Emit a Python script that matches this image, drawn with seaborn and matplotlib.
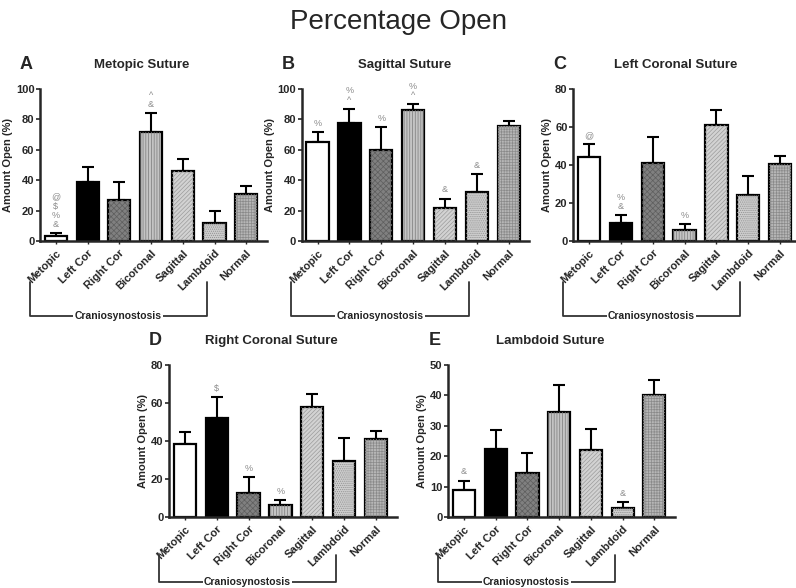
import pandas as pd
import seaborn as sns
import matplotlib.pyplot as plt
from matplotlib.patches import Rectangle
from matplotlib.transforms import blended_transform_factory

# ---------------- datos ----------------
categorias = ['Metopic', 'Left Cor', 'Right Cor', 'Bicoronal', 'Sagittal', 'Lambdoid', 'Normal']

metopic_media = [3.5, 39, 27, 72, 46, 12, 31]
metopic_err = [1.5, 10, 12, 12, 8, 7.5, 5]
metopic_marcas = ['@\n$\n%\n&', '', '', '^\n&', '', '', '']

sagittal_media = [65, 78, 60, 86, 22, 32, 76]
sagittal_err = [6.5, 9, 15, 4, 6, 12, 3]
sagittal_marcas = ['%', '%\n^', '%', '%\n^', '&', '&', '']

lcor_media = [44, 9.5, 41, 6, 61, 24, 40.5]
lcor_err = [7, 4, 14, 3, 8, 10, 4.5]
lcor_marcas = ['@', '%\n&', '', '%', '', '', '']

rcor_media = [38.5, 52, 12.5, 6.5, 58, 29.5, 41]
rcor_err = [6.5, 11, 8.5, 2.5, 7, 12, 4.5]
rcor_marcas = ['', '$', '%', '%', '', '', '']

lambdoid_media = [9, 22.5, 14.5, 34.5, 22, 3, 40]
lambdoid_err = [3, 6, 6.5, 9, 7, 2, 5]
lambdoid_marcas = ['&', '', '', '', '', '&', '']

# estilo de cada barra: (relleno, trama, color de trama)
rellenos = ['white', 'black', '#808080', '#c4c4c4', '#d2d2d2', '#cdcdcd', '#b6b6b6']
tramas = [None, None, 'xxxxxx', '||||||', '////////', '........', '++++++']
color_trama = [None, None, '#5e5e5e', '#7a7a7a', '#9c9c9c', '#8e8e8e', '#8a8a8a']

sns.set_style('ticks')
plt.rcParams['font.family'] = ['Liberation Sans', 'DejaVu Sans']
plt.rcParams['hatch.linewidth'] = 0.5


def panel(ax, letra, titulo, medias, errores, marcas, ymax, yticks, yb):
    df = pd.DataFrame({'grupo': categorias, 'valor': medias})
    sns.barplot(data=df, x='grupo', y='valor', ax=ax, color='white',
                edgecolor='black', linewidth=1.6, width=0.7, errorbar=None, zorder=2)
    for p, fc, h, hc in zip(ax.patches, rellenos, tramas, color_trama):
        p.set_facecolor(fc)
        if h:
            ax.add_patch(Rectangle(p.get_xy(), p.get_width(), p.get_height(), fill=False,
                                   hatch=h, edgecolor=hc, linewidth=0, zorder=2.5))
    ax.errorbar(range(len(categorias)), medias, yerr=[[0] * len(medias), errores],
                fmt='none', ecolor='black', elinewidth=1.5, capsize=4, capthick=1.5, zorder=1.5)
    for i, m in enumerate(marcas):
        if m:
            ax.annotate(m, (i, medias[i] + errores[i]), xytext=(0, 3), textcoords='offset points',
                        ha='center', va='bottom', fontsize=6.5, color='#8a8a8a',
                        linespacing=1.05)
    ax.set_xlim(-0.5, 6.65)
    ax.set_ylim(0, ymax)
    ax.set_yticks(yticks)
    ax.set_xlabel('')
    ax.set_ylabel('Amount Open (%)', fontsize=8, fontweight='bold', labelpad=2)
    ax.set_xticks(range(len(categorias)))
    ax.set_xticklabels(categorias, rotation=45, ha='right', rotation_mode='anchor',
                       fontsize=8, fontweight='bold')
    ax.tick_params(axis='y', labelsize=8, length=3, width=1.2, pad=1)
    ax.tick_params(axis='x', length=2, width=1, pad=3)
    for lab in ax.get_yticklabels():
        lab.set_fontweight('bold')
    sns.despine(ax=ax)
    for s in ['left', 'bottom']:
        ax.spines[s].set_linewidth(1.8)

    ax.text(-0.06, 1.16, letra, transform=ax.transAxes, fontsize=13, fontweight='bold',
            ha='center', va='center')
    ax.text(0.45, 1.16, titulo, transform=ax.transAxes, fontsize=9.5, fontweight='bold',
            ha='center', va='center')

    # corchete de craneosinostosis
    tr = blended_transform_factory(ax.transData, ax.transAxes)
    x0, x1 = -0.82, 4.75
    ax.plot([x0, x0, x1, x1], [yb[0], yb[1], yb[1], yb[0]], color='#333333', lw=1.3,
            transform=tr, clip_on=False)
    ax.text((x0 + x1) / 2, yb[1], 'Craniosynostosis', transform=tr, ha='center', va='center',
            fontsize=7.5, fontweight='bold', color='#222222',
            bbox=dict(facecolor='white', edgecolor='none', pad=1))


fig = plt.figure(figsize=(7.96, 5.88), dpi=100)
fig.text(0.5, 0.962, 'Percentage Open', ha='center', va='center', fontsize=20)

ax_a = fig.add_axes([0.0503, 0.590, 0.285, 0.2585])
ax_b = fig.add_axes([0.379, 0.590, 0.286, 0.2585])
ax_c = fig.add_axes([0.720, 0.590, 0.286, 0.2585])
ax_d = fig.add_axes([0.2123, 0.1207, 0.286, 0.2585])
ax_e = fig.add_axes([0.563, 0.1207, 0.285, 0.2585])

panel(ax_a, 'A', 'Metopic Suture', metopic_media, metopic_err, metopic_marcas,
      100, [0, 20, 40, 60, 80, 100], (-0.27, -0.49))
panel(ax_b, 'B', 'Sagittal Suture', sagittal_media, sagittal_err, sagittal_marcas,
      100, [0, 20, 40, 60, 80, 100], (-0.27, -0.49))
panel(ax_c, 'C', 'Left Coronal Suture', lcor_media, lcor_err, lcor_marcas,
      80, [0, 20, 40, 60, 80], (-0.27, -0.49))
panel(ax_d, 'D', 'Right Coronal Suture', rcor_media, rcor_err, rcor_marcas,
      80, [0, 20, 40, 60, 80], (-0.25, -0.43))
panel(ax_e, 'E', 'Lambdoid Suture', lambdoid_media, lambdoid_err, lambdoid_marcas,
      50, [0, 10, 20, 30, 40, 50], (-0.25, -0.43))

fig.savefig('out.png', dpi=100)
